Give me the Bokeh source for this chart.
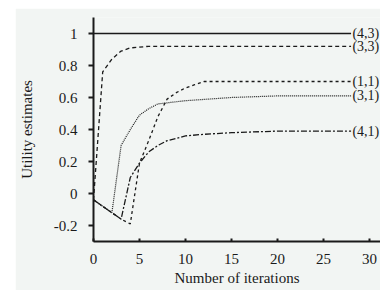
from bokeh.plotting import figure
from bokeh.models import FixedTicker, CustomJSTickFormatter, Range1d, ColumnDataSource
from bokeh.core.properties import value
from bokeh.embed import file_html
from bokeh.resources import INLINE

# ---- data ----
x_43 = [0, 28]
y_43 = [1.0, 1.0]

x_33 = [0, 1, 2, 3, 4, 6, 10, 28]
y_33 = [-0.04, 0.76, 0.84, 0.89, 0.91, 0.92, 0.92, 0.92]

x_11 = [0, 1, 2, 3, 4, 5, 6, 7, 8, 9, 10, 11, 12, 15, 28]
y_11 = [-0.04, -0.08, -0.12, -0.16, -0.19, 0.19, 0.33, 0.48, 0.59, 0.63, 0.66, 0.68, 0.70, 0.70, 0.70]

x_31 = [0, 1, 2, 3, 4, 5, 6, 7, 10, 15, 20, 28]
y_31 = [-0.04, -0.08, -0.12, 0.30, 0.40, 0.49, 0.53, 0.56, 0.58, 0.60, 0.61, 0.61]

x_41 = [0, 1, 2, 3, 4, 5, 6, 7, 8, 10, 12, 15, 20, 28]
y_41 = [-0.04, -0.08, -0.12, -0.16, 0.10, 0.19, 0.26, 0.30, 0.33, 0.36, 0.37, 0.38, 0.39, 0.39]

series_names = ["(4,3)", "(3,3)", "(1,1)", "(3,1)", "(4,1)"]
label_x = [28.15, 28.15, 28.15, 28.15, 28.15]
label_y = [1.0, 0.92, 0.70, 0.61, 0.39]

x_ticks = [0, 5, 10, 15, 20, 25, 30]
y_ticks = [-0.2, 0, 0.2, 0.4, 0.6, 0.8, 1]

x_title = "Number of iterations"
y_title = "Utility estimates"

BG = "#f2f5f3"
INK = "#1a1a1a"
FONT = "Liberation Serif"

p = figure(width=365, height=282,
           x_range=Range1d(0, 31.2), y_range=Range1d(-0.3, 1.1),
           output_backend="svg", toolbar_location=None,
           min_border_left=78, min_border_right=0,
           min_border_top=9, min_border_bottom=49,
           background_fill_color=BG, border_fill_color=BG,
           margin=(8, 0, 0, 15))
p.outline_line_color = None
p.grid.visible = False

p.line(x_43, y_43, line_color=INK, line_width=1.3)
p.line(x_33, y_33, line_color=INK, line_width=1.3, line_dash="4 3")
p.line(x_11, y_11, line_color=INK, line_width=1.3, line_dash="3 3")
p.line(x_31, y_31, line_color=INK, line_width=1.2, line_dash="1 1")
p.line(x_41, y_41, line_color=INK, line_width=1.3, line_dash="6 2 2 2")

src = ColumnDataSource(dict(x=label_x, y=label_y, t=series_names))
p.text(x="x", y="y", text="t", source=src, text_font=value(FONT),
       text_font_size="14px", text_baseline="middle", text_align="left",
       text_color=INK)

fmt = CustomJSTickFormatter(code="return (Math.round(tick*10)/10).toString();")

xa = p.xaxis[0]
xa.ticker = FixedTicker(ticks=x_ticks)
xa.formatter = fmt
xa.axis_line_width = 2
xa.axis_line_color = INK
xa.major_tick_line_width = 2
xa.major_tick_line_color = INK
xa.major_tick_in = 3
xa.major_tick_out = 0
xa.minor_tick_line_color = None
xa.major_label_standoff = 12
xa.major_label_text_font = FONT
xa.major_label_text_font_size = "15px"
xa.major_label_text_color = INK
xa.axis_label = x_title
xa.axis_label_text_font = FONT
xa.axis_label_text_font_size = "15px"
xa.axis_label_text_font_style = "normal"
xa.axis_label_text_color = INK
xa.axis_label_standoff = 3

ya = p.yaxis[0]
ya.ticker = FixedTicker(ticks=y_ticks)
ya.formatter = fmt
ya.axis_line_width = 2
ya.axis_line_color = INK
ya.major_tick_line_width = 2
ya.major_tick_line_color = INK
ya.major_tick_in = 0
ya.major_tick_out = 5
ya.minor_tick_line_color = None
ya.major_label_standoff = 11
ya.major_label_text_font = FONT
ya.major_label_text_font_size = "15px"
ya.major_label_text_color = INK
ya.axis_label = y_title
ya.axis_label_text_font = FONT
ya.axis_label_text_font_size = "15px"
ya.axis_label_text_font_style = "normal"
ya.axis_label_text_color = INK
ya.axis_label_standoff = 16

open("out.html", "w").write(file_html(p, INLINE))
